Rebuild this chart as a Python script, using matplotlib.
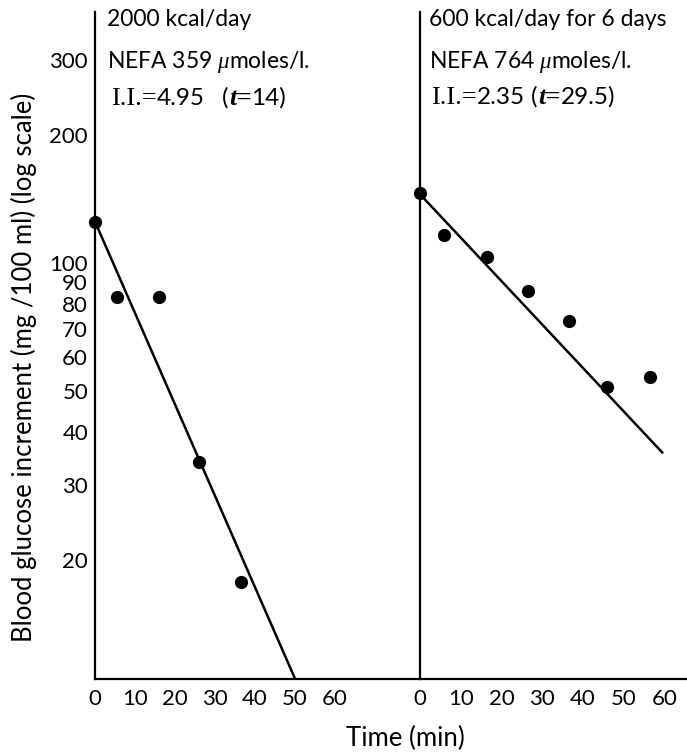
import numpy as np
import matplotlib
matplotlib.use("Agg")
import matplotlib.pyplot as plt

plt.rcParams['font.family'] = ['Lato', 'DejaVu Sans']
plt.rcParams['mathtext.fontset'] = 'custom'
plt.rcParams['mathtext.rm'] = 'Liberation Serif'
plt.rcParams['mathtext.it'] = 'Liberation Serif:italic'
plt.rcParams['mathtext.bf'] = 'Liberation Serif:bold'

# ---- data ----
left_time = [0, 5.5, 16, 26, 36.5]
left_glucose = [125, 83, 83, 34, 17.8]
left_intercept = 125.0
left_ii = 4.95          # % per min
left_fit_end = 50.0

right_time = [0, 6, 16.5, 26.5, 36.5, 46, 56.5]
right_glucose = [146, 116, 103, 86, 73, 51, 54]
right_intercept = 145.0
right_ii = 2.35
right_fit_end = 59.5

left_titles = ["2000 kcal/day", r"NEFA 359 $\mu$moles/l."]
right_titles = ["600 kcal/day for 6 days", r"NEFA 764 $\mu$moles/l."]
left_ii_text = ["4.95", "14"]
right_ii_text = ["2.35", "29.5"]

x_ticks = [0, 10, 20, 30, 40, 50, 60]
y_ticks = [20, 30, 40, 50, 60, 70, 80, 90, 100, 200, 300]

W, H = 687, 755
fig = plt.figure(figsize=(W / 100, H / 100), dpi=100)

def fx(px):
    return px / W

def fy(py):
    return 1 - py / H

ybot, ytop = 679, 12
axL = fig.add_axes([fx(95), fy(ybot), fx(420 - 95), (ybot - ytop) / H])
axR = fig.add_axes([fx(420), fy(ybot), fx(687 - 420), (ybot - ytop) / H])

ylim = (10.5, 389)
fs = 16.5
tfs = 16

for ax, t, g, a, k, tend, xmax in [
    (axL, left_time, left_glucose, left_intercept, left_ii, left_fit_end, 81.25),
    (axR, right_time, right_glucose, right_intercept, right_ii, right_fit_end, 65.6),
]:
    ax.set_yscale('log')
    ax.set_ylim(*ylim)
    ax.set_xlim(0, xmax)
    ax.plot(t, g, 'o', color='black', markersize=8.5, clip_on=False, zorder=5)
    tt = np.linspace(0, tend, 50)
    ax.plot(tt, a * np.exp(-k / 100 * tt), color='black', lw=1.8, clip_on=False)
    for s in ['top', 'right']:
        ax.spines[s].set_visible(False)
    ax.spines['left'].set_linewidth(1.6)
    ax.spines['bottom'].set_linewidth(1.6)
    ax.set_xticks(x_ticks)
    ax.set_xticklabels([str(v) for v in x_ticks], fontsize=tfs)
    ax.tick_params(axis='x', length=0, pad=7)
    ax.minorticks_off()
    ax.set_yticks(y_ticks)
    ax.yaxis.set_minor_locator(matplotlib.ticker.NullLocator())
    ax.set_facecolor('none')

axL.set_yticklabels([str(v) for v in y_ticks], fontsize=tfs)
axL.tick_params(axis='y', length=0, pad=5)
axR.set_yticklabels([])
axR.tick_params(axis='y', length=0)

# header texts
for (xpx, lines) in [(107, left_titles), (429, right_titles)]:
    for ypx, txt in zip([20, 62], lines):
        fig.text(fx(xpx), fy(ypx), txt, fontsize=fs, va='center', ha='left')

renderer = fig.canvas.get_renderer()
serif = 'Liberation Serif'
sans = ['Lato', 'DejaVu Sans']

def ii_line(xpx, ypx, vals, gap):
    pieces = [
        ("I.I.=", dict(family=serif, size=19), 0),
        (vals[0], dict(family=sans, size=17.5), gap),
        ("(", dict(family=sans, size=17.5), 1),
        ("t=", dict(family=serif, size=19, weight='bold', style='italic'), 0),
        (vals[1] + ")", dict(family=sans, size=17.5), 0),
    ]
    x = xpx
    for txt, kw, extra in pieces:
        t = fig.text(fx(x), fy(ypx), txt, va='baseline', ha='left', **kw)
        bb = t.get_window_extent(renderer=renderer)
        x += bb.width + extra

ii_line(111, 105, left_ii_text, 17)
ii_line(431, 104, right_ii_text, 6)

fig.text(fx(24), fy(367), "Blood glucose increment (mg /100 ml) (log scale)",
         rotation=90, fontsize=18.5, va='center', ha='center')
fig.text(fx(405), fy(738), "Time (min)", fontsize=18.5, va='center', ha='center')

fig.savefig("out.png", dpi=100)
